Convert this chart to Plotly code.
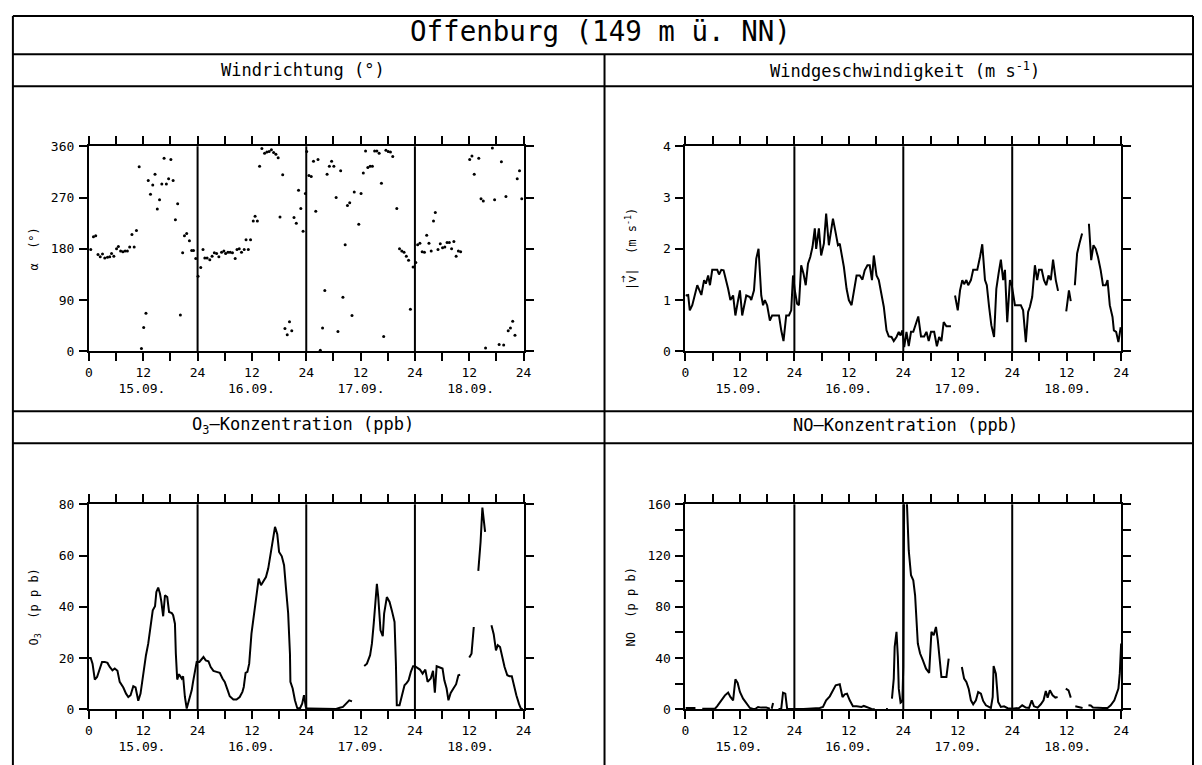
import plotly.graph_objects as go

# ---------------- data (hours since 15.09. 00:00) ----------------
DAYS = ["15.09.", "16.09.", "17.09.", "18.09."]

# wind direction, degrees (scatter)
wd_hours = [
    0.4, 1.0, 1.5, 2.0, 2.5, 3.0, 3.5, 4.1, 4.6, 5.0, 5.5, 6.1, 6.5, 7.0, 7.5, 8.0, 8.5, 9.0, 9.5, 10.0,
    10.5, 11.1, 11.6, 12.1, 12.6, 13.1, 13.6, 14.1, 14.6, 15.1, 15.6, 16.1, 16.6, 17.1, 17.6, 18.1, 18.6,
    19.1, 19.6, 20.2, 20.7, 21.1, 21.6, 22.2, 22.7, 23.1, 23.6,
    24.1, 24.7, 25.2, 25.6, 26.1, 26.7, 27.2, 27.7, 28.2, 28.7, 29.3, 29.8, 30.2, 30.7, 31.2, 31.7, 32.3,
    32.7, 33.2, 33.7, 34.3, 34.7, 35.2, 35.7, 36.3, 36.7, 37.2, 37.7, 38.2, 38.8, 39.3, 39.8, 40.3, 40.8,
    41.3, 41.8, 42.2, 42.8, 43.3, 43.8, 44.3, 44.8, 45.3, 45.8, 46.3, 46.8, 47.3, 47.8,
    48.1, 48.6, 49.1, 49.6, 50.1, 50.6, 51.1, 51.6, 52.1, 52.6, 53.1, 53.6, 54.1, 54.6, 55.0, 55.6, 56.1,
    56.6, 57.1, 57.6, 58.1, 58.6, 59.6, 60.1, 60.6, 61.1, 61.6, 62.1, 62.6, 63.1, 63.6, 64.1, 64.6, 65.1,
    65.6, 66.1, 66.6, 67.1, 68.0, 68.6, 69.1, 69.6, 70.1, 70.6, 71.0, 71.6,
    72.2, 72.6, 73.1, 73.6, 74.1, 74.6, 75.1, 75.6, 76.1, 76.5, 77.1, 77.6, 78.1, 78.6, 79.1, 79.6, 80.1,
    80.6, 81.1, 81.6, 82.1, 84.1, 84.6, 85.1, 86.1, 86.6, 87.1, 87.6, 89.1, 89.6, 90.6, 91.1, 91.6, 92.1,
    92.6, 93.1, 93.6, 94.1, 94.6, 95.1, 95.6,
]
wd_deg = [
    179, 201, 203, 170, 166, 171, 164, 165, 166, 172, 167, 180, 184, 176, 175, 176, 176, 183, 205, 183,
    212, 324, 5, 42, 67, 300, 276, 292, 311, 250, 266, 294, 339, 294, 303, 337, 300,
    231, 259, 64, 173, 203, 207, 194, 177, 177, 163,
    132, 147, 179, 164, 164, 161, 167, 173, 172, 166, 174, 176, 172, 174, 174, 173, 163,
    179, 180, 174, 179, 196, 179, 196, 229, 237, 229, 325, 356, 348, 350, 351, 354, 349,
    346, 340, 236, 310, 40, 29, 52, 36, 235, 225, 283, 251, 211, 277,
    351, 309, 307, 334, 246, 337, 2, 41, 107, 311, 325, 334, 325, 270, 35, 317, 95,
    187, 256, 261, 63, 280, 223, 277, 313, 352, 323, 325, 325, 352, 352, 348, 295, 26,
    353, 351, 350, 342, 251, 180, 176, 174, 167, 160, 74, 148,
    156, 187, 190, 175, 174, 204, 190, 176, 229, 244, 179, 189, 182, 183, 191, 191, 180,
    193, 167, 176, 175, 337, 343, 311, 339, 268, 264, 6, 357, 266, 12, 333, 11, 272,
    36, 41, 53, 28, 303, 317, 268,
]

# wind speed, m/s (None = gap)
ws_hours = [
    0.0, 0.2, 0.6, 0.95, 1.5, 2.0, 2.6, 3.5, 4.1, 4.5, 5.0, 5.4, 5.9, 7.0, 7.4, 7.9, 8.4, 9.4, 9.9, 10.5,
    11.0, 11.6, 12.0, 12.5, 13.4, 14.2, 14.5, 15.1, 15.6, 16.1, 16.7, 17.1, 17.5, 18.0, 18.6, 19.1, 20.0,
    20.6, 21.1, 21.6, 22.2, 22.8, 23.3, 23.7, 24.1,
    24.3, 24.6, 25.0, 25.5, 26.0, 26.5, 27.0, 27.5, 28.0, 28.5, 28.8, 29.4, 29.9, 30.5, 31.0, 31.6, 32.1,
    32.5, 33.0, 33.6, 34.0, 34.9, 35.5, 36.0, 36.6, 37.1, 37.7, 38.4, 39.0, 39.5, 40.1, 40.6, 41.1, 41.5,
    42.1, 42.6, 43.2, 43.7, 44.3, 44.8, 45.4, 45.9, 46.5, 47.0, 47.4, 47.8, 48.2,
    48.7, 49.2, 49.7, 50.2, 50.8, 51.3, 51.9, 52.6, 53.1, 53.6, 54.1, 54.8, 55.4, 55.9, 56.4, 56.9, 57.5,
    58.5, 59.0, 59.4, 60.0, 60.5, 61.0, 61.4, 61.9, 62.3, 62.9, 63.4, 64.3, 64.9, 65.4, 66.0, 66.4, 66.9,
    67.4, 68.0, 68.5, 69.0, 69.5, 70.0, 70.4, 70.9, 71.5, 71.9,
    72.2, 72.6, 73.1, 73.9, 74.4, 75.0, 75.5, 75.9, 76.4, 77.0, 77.5, 77.9, 78.5, 79.0, 79.5, 80.0, 80.5,
    81.0, 81.6, 82.1, 83.0, 83.9, 84.5, 84.9, 85.3, 85.8, 86.3, 86.8, 87.4, 88.0, 88.9, 89.4, 89.9, 90.4,
    90.9, 91.5, 92.0, 92.6, 93.0, 93.5, 94.1, 94.4, 94.9, 95.4, 95.9,
]
ws_ms = [
    1.1, 1.09, 1.1, 0.8, 0.9, 1.06, 1.29, 1.1, 1.39, 1.32, 1.48, 1.29, 1.59, 1.59, 1.5, 1.59, 1.58, 1.22, 1.0, 1.09,
    0.7, 1.0, 1.19, 0.7, 1.09, 1.06, 1.0, 1.19, 1.81, 2.0, 1.09, 0.9, 1.0, 0.9, 0.6, 0.7, 0.7,
    0.7, 0.41, 0.2, 0.7, 0.7, 0.8, 1.48, 1.19,
    1.06, 0.93, 0.9, 1.68, 1.52, 1.29, 1.71, 1.84, 2.04, 2.4, 2.0, 2.4, 1.87, 2.1, 2.69, 2.07, 2.36,
    2.59, 2.36, 2.07, 2.1, 1.65, 1.22, 1.0, 0.9, 1.13, 1.48, 1.48, 1.4, 1.58, 1.68, 1.68, 1.39, 1.87,
    1.48, 1.39, 1.06, 0.87, 0.41, 0.29, 0.28, 0.2, 0.28, 0.38, 0.31, 0.41, 0.08,
    0.38, 0.1, 0.38, 0.38, 0.57, 0.68, 0.29, 0.29, 0.38, 0.2, 0.38, 0.38, 0.1, 0.28, 0.2, 0.57, 0.49,
    0.49, None, 1.09, 0.8, 1.19, 1.39, 1.31, 1.39, 1.29, 1.39, 1.59, 1.59, 1.84, 2.09, 1.39, 1.29, 0.87,
    0.51, 0.28, 1.22, 1.52, 1.79, 1.39, 1.59, 0.57, 1.39, 1.29,
    1.09, 0.9, 0.9, 0.9, 0.8, 0.18, 0.77, 0.87, 1.06, 1.68, 1.39, 1.59, 1.59, 1.39, 1.29, 1.48, 1.39,
    1.79, 1.39, 1.18, None, 0.78, 1.19, 0.98, None, 1.29, 1.91, 2.1, 2.3, None, 2.49, 1.78, 2.07, 2.0,
    1.84, 1.58, 1.29, 1.29, 1.39, 0.9, 0.67, 0.41, 0.38, 0.18, 0.47,
]

# ozone, ppb
o3_hours = [
    0.0, 0.4, 0.8, 1.3, 1.8, 2.4, 2.9, 3.5, 4.1, 4.6, 5.2, 5.7, 6.3, 6.8, 7.6, 8.2, 8.7, 9.2, 9.8, 10.3,
    10.9, 11.4, 12.0, 12.6, 13.1, 13.6, 14.1, 14.6, 14.9, 15.3, 15.7, 16.0, 16.4, 16.8, 17.3, 17.7, 18.3,
    18.6, 19.0, 19.2, 19.5, 19.9, 20.5, 20.8, 21.2, 21.6, 22.1, 22.7, 23.0, 23.4, 23.8,
    24.4, 24.9, 25.3, 25.8, 26.4, 26.9, 27.5, 28.2, 28.9, 29.5, 30.0, 30.6, 31.1, 31.9, 32.6, 33.3, 33.9,
    34.2, 34.6, 35.0, 35.4, 35.9, 36.4, 37.0, 37.5, 38.0, 38.5, 39.1, 39.6, 40.1, 40.6, 41.1, 41.6, 42.0,
    42.6, 43.1, 43.5, 44.0, 44.4, 44.5, 45.0, 45.5, 46.0, 46.6, 47.1, 47.5, 47.9,
    48.1, 48.7, 50.0, 52.0, 54.6, 55.4, 56.1, 56.8, 57.5, 58.1, 59.5, 60.8, 61.4, 62.1, 62.5, 62.9, 63.3,
    63.6, 63.9, 64.4, 64.9, 65.2, 65.8, 66.4, 66.9, 67.5, 67.8, 68.0, 68.6, 69.1, 69.7, 70.2, 70.6, 71.1,
    71.6, 72.0,
    72.6, 73.1, 73.7, 74.3, 74.8, 75.5, 76.0, 76.4, 76.8, 77.5, 78.1, 78.5, 79.0, 79.4, 79.9, 80.5, 81.1,
    81.6, 82.0, 83.0, 84.0, 84.5, 85.0, 85.5, 86.0, 86.5, 86.9, 87.2, 87.5, 88.2, 88.9, 89.4, 89.9, 90.3,
    90.8, 91.3, 91.8, 92.4, 92.9, 93.4, 93.9, 94.4, 95.0, 95.4, 95.8,
]
o3_ppb = [
    20, 20, 17.8, 11.6, 12.6, 15.9, 18.5, 18.5, 18.1, 16.5, 15.2, 15.9, 15, 10.7, 8.5, 6.1, 4.8, 5.5, 9.0, 8.5,
    3.3, 6.1, 14.6, 21.1, 25.6, 33.4, 38.6, 40.2, 45.8, 47.5, 45.1, 41.9, 36.3, 44.5, 43.8, 38.0, 37.6,
    36.7, 33.4, 21.7, 11.6, 13.7, 12.0, 12.9, 4.8, 0.3, 3.5, 7.4, 10.7, 14.6, 18.5,
    18.5, 19.8, 20.4, 19.1, 18.7, 16.5, 15.0, 14.6, 14.2, 12.0, 10.7, 7.7, 5.1, 3.8, 3.8, 4.8, 6.8,
    8.7, 14.2, 14.6, 17.8, 29.5, 36.7, 45.8, 51.0, 48.4, 49.7, 51.6, 54.9, 60.1, 66.6, 71.2, 68.3, 61.4,
    59.7, 56.2, 47.7, 37.6, 21.7, 10.7, 8.1, 3.5, 0.5, 0.3, 2.2, 5.5, 0.9,
    0.3, 0.3, 0.2, 0.2, 0.1, 0.6, 0.9, 2.2, 3.5, 3.1, None, 16.9, 17.8, 21.1, 25.6, 33.4, 42.5,
    49.0, 43.8, 30.8, 28.5, 37.3, 43.8, 41.9, 38.6, 34.1, 17.8, 1.6, 1.6, 4.8, 9.4, 10.3, 11.3, 14.6,
    16.8, 16.8,
    16.1, 15.5, 13.9, 15.5, 10.7, 12.0, 15.0, 6.5, 16.8, 16.3, 15.9, 11.3, 8.1, 3.5, 6.4, 8.1, 9.8,
    13.3, 13.5, None, 20.2, 21.7, 32.1, None, 54.0, 65.3, 78.7, 73.8, 69.2, None, 32.8, 29.3, 23.0, 25.0,
    24.3, 20.4, 16.5, 13.3, 12.9, 12.9, 8.7, 5.5, 2.0, 0.3, 0.0,
]

# nitrogen monoxide, ppb (values above 160 are cut by the axis)
no_hours = [
    0.0, 0.5, 1.0, 1.5, 2.2, 3.0, 3.7, 4.5, 5.5, 6.5, 7.0, 7.6, 8.2, 8.7, 9.4, 9.9, 10.5, 11.0, 11.5, 12.0,
    12.7, 13.4, 14.2, 14.9, 15.5, 16.0, 16.7, 17.8, 18.6, 18.8, 19.0, 19.3, 19.8, 20.5, 21.1, 21.5, 22.0,
    22.4, 23.3, 24.0,
    25.0, 26.0, 27.0, 28.0, 29.0, 29.6, 30.3, 31.0, 31.8, 32.5, 33.1, 34.0, 34.6, 35.1, 35.6, 36.2, 36.9,
    37.7, 38.3, 38.8, 39.3, 39.9, 40.5, 41.0, 41.7, 43.0, 44.2, 44.6, 45.0, 45.5, 45.9, 46.1, 46.5, 46.8,
    47.0, 47.4, 47.6, 47.8, 48.0,
    48.2, 48.7, 49.2, 49.7, 50.2, 50.6, 51.2, 51.7, 52.3, 53.0, 53.7, 54.2, 54.7, 55.2, 55.6, 55.9, 56.4,
    57.0, 57.5, 58.0, 59.5, 60.9, 61.4, 61.9, 62.4, 62.9, 63.4, 64.0, 64.5, 65.1, 65.6, 66.2, 66.8, 67.3,
    67.7, 67.9, 68.4, 68.9, 69.5, 70.2, 71.0, 71.7, 72.0,
    72.8, 73.5, 74.2, 75.0, 75.7, 76.3, 76.8, 77.6, 78.3, 78.9, 79.4, 79.8, 80.3, 80.9, 81.5, 82.0, 83.0,
    83.8, 84.4, 84.9, 85.4, 85.9, 86.8, 87.5, 88.2, 88.8, 89.3, 89.8, 90.6, 91.2, 92.0, 93.0, 93.7, 94.5,
    95.0, 95.4, 95.7, 96.0,
]
no_ppb = [
    1, 1, 0.8, 1, 1, None, 0.5, 0.5, 0.5, 0.5, 2.5, 5.7, 8.5, 10.9, 13, 9.6, 7, 23.4, 20.6, 13.5,
    8.3, 4.4, 1, 0.3, 0.5, 1.8, 1.3, 1.3, 0.5, None, 0.5, 4.9, None, 0.3, 0.3, 13, 12.2,
    0.5, 0.3, 0.3,
    0.5, 0.3, 0.5, 0.5, 0.8, 1, 1.8, 7, 10.1, 14.3, 18.7, 19.5, 9.6, 11.7, 12.2, 7, 2.3,
    2.3, 1.8, 1.8, 2.6, 1.8, 0.8, 0.3, 0, None, 0.3, 0.3, None, 8.3, 23.9, 48.7, 60.4, 40.9,
    16.1, 5.2, 5.7, 7, 33,
    170, 170, 124, 104.6, 100.7, 89, 51.3, 43.5, 38.3, 31.7, 28.4, 60.4, 57.8, 64.3, 53.9, 43.5, 25.2,
    25.2, 25.2, 39.5, None, 33, 23.9, 21.3, 16.1, 7, 3.9, 7, 13.5, 12.2, 6.5, 3.1, 1.8, 1,
    9.6, 33.8, 27.8, 5.7, 1.8, 2.3, 0.8, 0.5, 0.5,
    0.8, 1, 3.1, 1.3, 1, 7, 2.3, 1.3, 3.9, 7, 14.3, 9.1, 14.8, 10.9, 9.1, 9.6, None,
    16.1, 14.8, 9.1, None, 2.3, 1.3, 1, None, 3.1, 2.9, 1.3, 1, 1, 1, 1, 3.1, 7,
    12.2, 16.1, 27.8, 51.3,
]

assert len(wd_hours) == len(wd_deg)
assert len(ws_hours) == len(ws_ms)
assert len(o3_hours) == len(o3_ppb)
assert len(no_hours) == len(no_ppb)

# ---------------- page geometry ----------------
# target positions below are pixels of the reference picture; the photo of the
# page came out slightly shrunk, so they are mapped back to page pixels first
OFF = 8            # default body margin of the html page
W, H = 1194, 765
FONT = "DejaVu Sans Mono"
SX, AX = 0.9907, 4.1
SY, AY = 0.9805, 6.8


def fx(X):
    page_x = (X - AX) / SX
    return (page_x - OFF) / W


def fy(Y):
    page_y = (Y - AY) / SY
    return 1 - (page_y - OFF) / H


X_LEFT = (89, 524)
X_RIGHT = (686, 1122)
Y_TOP = (146, 351)
Y_BOT = (504, 709)

# the day labels under each panel, one axis title with fixed-width spacing
NBSP = "\u00a0"
date_row = (NBSP * 8).join(DAYS)

panels = [
    # axis suffix, x px, y px, y range, y tick step, label step, y title, title standoff
    ("", X_LEFT, Y_TOP, 360, 90, 90, "α" + NBSP * 2 + "(°)", 10),
    ("2", X_RIGHT, Y_TOP, 4, 1, 1, "|v|" + NBSP * 2 + "(m s<sup>-1</sup>)", 24),
    ("3", X_LEFT, Y_BOT, 80, 20, 20, "O<sub>3</sub>" + NBSP * 2 + "(p p b)", 17),
    ("4", X_RIGHT, Y_BOT, 160, 20, 40, "NO" + NBSP * 2 + "(p p b)", 9),
]

fig = go.Figure()
line_style = dict(color="black", width=2)

fig.add_trace(go.Scatter(x=wd_hours, y=wd_deg, mode="markers",
                         marker=dict(size=3, color="black"), xaxis="x", yaxis="y", showlegend=False))
fig.add_trace(go.Scatter(x=ws_hours, y=ws_ms, mode="lines", line=line_style,
                         xaxis="x2", yaxis="y2", showlegend=False))
fig.add_trace(go.Scatter(x=o3_hours, y=o3_ppb, mode="lines", line=line_style,
                         xaxis="x3", yaxis="y3", showlegend=False))
fig.add_trace(go.Scatter(x=no_hours, y=no_ppb, mode="lines", line=line_style,
                         xaxis="x4", yaxis="y4", showlegend=False))

xmajor = list(range(0, 97, 12))
xtext = ["0"] + ["12" if h % 24 else "24" for h in xmajor[1:]]
xminor = list(range(6, 97, 12))

tickfont = dict(family=FONT, size=13, color="black")
tick_style = dict(ticks="outside", ticklen=8, tickwidth=1.5, tickcolor="black")
shapes = []
annotations = []
layout = {}

for suf, xpx, ypx, ymax, ystep, lstep, ytitle, ystand in panels:
    common = dict(showline=True, linewidth=2, linecolor="black", mirror="ticks",
                  showgrid=False, zeroline=False, tickfont=tickfont, fixedrange=True, **tick_style)
    layout["xaxis" + suf] = dict(
        domain=[fx(xpx[0]), fx(xpx[1])], range=[0, 96], anchor="y" + suf,
        tickmode="array", tickvals=xmajor, ticktext=xtext, ticklabelstandoff=0,
        title=dict(text=date_row, font=tickfont, standoff=5),
        minor=dict(tickmode="array", tickvals=xminor, showgrid=False, **tick_style), **common)
    yminor = [v for v in range(0, ymax + 1, ystep) if v % lstep]
    ymin_cfg = dict(minor=dict(tickmode="array", tickvals=yminor, showgrid=False, **tick_style)) if yminor else {}
    layout["yaxis" + suf] = dict(
        domain=[fy(ypx[1]), fy(ypx[0])], range=[0, ymax], anchor="x" + suf,
        tickmode="array", tickvals=list(range(0, ymax + 1, lstep)), ticklabelstandoff=2,
        title=dict(text=ytitle, font=dict(family=FONT, size=12, color="black"), standoff=ystand),
        **ymin_cfg, **common)

    for d in (24, 48, 72):
        shapes.append(dict(type="line", xref="x" + suf, yref=f"y{suf} domain",
                           x0=d, x1=d, y0=0, y1=1, line=dict(color="black", width=2)))

# little vector arrow over the "v" of the wind speed axis title
annotations.append(dict(x=fx(624), y=fy(279), xref="paper", yref="paper", text="→",
                        textangle=-90, showarrow=False,
                        font=dict(family="DejaVu Sans", size=9, color="black"),
                        xanchor="center", yanchor="middle"))

# frame of the sheet (clamped to what the page can show)
frame = dict(color="black", width=2)
LEFT, TOP, RIGHT = 0.9 / W, 1 - 1.0 / H, 1 - 1.0 / W
for yy in (54, 86, 411, 443):
    shapes.append(dict(type="line", xref="paper", yref="paper",
                       x0=LEFT, x1=RIGHT, y0=fy(yy), y1=fy(yy), line=frame))
shapes.append(dict(type="line", xref="paper", yref="paper",
                   x0=LEFT, x1=RIGHT, y0=TOP, y1=TOP, line=frame))
for xx, ytop in ((LEFT, TOP), (RIGHT, TOP), (fx(605), fy(54))):
    shapes.append(dict(type="line", xref="paper", yref="paper",
                       x0=xx, x1=xx, y0=ytop, y1=-0.02, line=frame))

headers = [
    ("Offenburg (149 m ü. NN)", 601, 31, 27.5),
    ("Windrichtung (°)", 303, 70, 17),
    ("Windgeschwindigkeit (m s<sup>-1</sup>)", 906, 70, 17),
    ("O<sub>3</sub>–Konzentration (ppb)", 303, 425, 17),
    ("NO–Konzentration (ppb)", 906, 425, 17),
]
for text, xx, yy, size in headers:
    annotations.append(dict(x=fx(xx), y=fy(yy), xref="paper", yref="paper", text=text,
                            showarrow=False, font=dict(family=FONT, size=size, color="black"),
                            xanchor="center", yanchor="middle"))

fig.update_layout(
    width=W, height=H, autosize=False,
    margin=dict(l=0, r=0, t=0, b=0),
    paper_bgcolor="white", plot_bgcolor="white",
    showlegend=False,
    shapes=shapes, annotations=annotations,
    **layout,
)

fig.write_html("out.html")
